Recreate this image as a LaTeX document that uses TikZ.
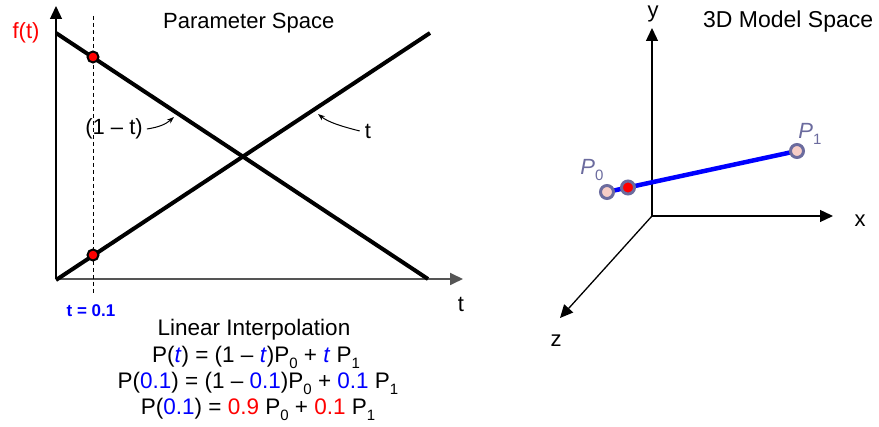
\documentclass[tikz,border=0pt]{standalone}
\usepackage{fontspec}
\setmainfont{Liberation Sans}
\usetikzlibrary{arrows.meta}
\definecolor{PtEdge}{HTML}{6B6B9E}
\definecolor{PtFill}{HTML}{F7CDC6}
\definecolor{AxisGray}{HTML}{555555}
\newcommand\lowsub[1]{\raisebox{-0.5ex}{\fontsize{15}{15}\selectfont#1}}
\newcommand\bl[1]{\textcolor{blue}{#1}}
\newcommand\rd[1]{\textcolor{red}{#1}}

\begin{document}
\begin{tikzpicture}[x=1pt,y=-1pt,
  lbl/.style={font=\fontsize{22}{26}\selectfont,inner sep=0pt},
  eqline/.style={lbl,font=\fontsize{22.5}{26}\selectfont,anchor=base},
  axis/.style={line width=1.3pt,-{Triangle[length=13pt,width=12pt]}},
  fline/.style={line width=4pt},
  tdot/.style={circle,draw,fill=red,line width=2pt,minimum size=11pt,inner sep=0pt},
  vpt/.style={circle,draw=PtEdge,fill=PtFill,line width=3pt,minimum size=13pt,inner sep=0pt},
  pointer/.style={line width=1pt,-{Stealth[length=7pt,width=5pt]}}
]
  \useasboundingbox (0,0) rectangle (879,427);

  % parameter space
  \coordinate (org) at (56,279);
  \coordinate (ftip) at (56,6);
  \coordinate (ttip) at (463,279);
  \coordinate (a0) at (56,33);
  \coordinate (a1) at (428,279);
  \coordinate (b0) at (56,280);
  \coordinate (b1) at (430,33);
  \coordinate (dtop) at (93,16);
  \coordinate (dbot) at (93,293);

  \draw[axis] (org) -- (ftip);
  \draw[axis,draw=AxisGray,line width=1.8pt] (org) -- (ttip);
  \draw[dashed,dash pattern=on 4pt off 3pt,line width=0.8pt] (dtop) -- (dbot);
  \draw[fline] (a0) -- (a1);
  \draw[fline] (b0) -- (b1);
  \node[tdot] (hi) at (93,57) {};
  \node[tdot] (lo) at (93,255) {};

  \node[lbl,anchor=base west] (ptitle) at (163,29) {Parameter Space};
  \node[lbl,text=red] (ft) at (26,33) {f(t)};
  \node[lbl] (omt) at (114,129) {(1 – t)};
  \node[lbl] (tlab) at (368,131) {t};
  \node[lbl] (taxis) at (461,304) {t};
  \node[font=\bfseries\fontsize{17}{19}\selectfont,text=blue,inner sep=0pt] (tval) at (91,311) {t = 0.1};

  \coordinate (omtend) at (174,117);
  \coordinate (tend) at (318,114);
  \draw[pointer] ([xshift=4pt]omt.east) .. controls (160,127) and (166,124) .. (omtend);
  \draw[pointer] ([xshift=-5pt]tlab.west) .. controls (340,126) and (328,122) .. (tend);

  % interpolation formulas
  \node[eqline] (lin) at (254,336) {Linear Interpolation};
  \node[eqline] (eq1) at (256,363) {P(\bl{\textit{t}}) = (1 – \bl{\textit{t}})P\lowsub{0} + \bl{\textit{t}} P\lowsub{1}};
  \node[eqline] (eq2) at (258,389) {P(\bl{0.1}) = (1 – \bl{0.1})P\lowsub{0} + \bl{0.1} P\lowsub{1}};
  \node[eqline] (eq3) at (258,415) {P(\bl{0.1}) = \rd{0.9} P\lowsub{0} + \rd{0.1} P\lowsub{1}};

  % model space
  \coordinate (O) at (652,216);
  \coordinate (ytip) at (652,28);
  \coordinate (xtip) at (833,216);
  \coordinate (ztip) at (560,318);
  \draw[axis] (O) -- (ytip);
  \draw[axis] (O) -- (xtip);
  \draw[axis] (O) -- (ztip);
  \node[lbl] (ylab) at (653,14) {y};
  \node[lbl] (xlab) at (860,221) {x};
  \node[lbl] (zlab) at (556,341) {z};
  \node[lbl,font=\fontsize{23}{26}\selectfont,anchor=base west] (mtitle) at (703,28) {3D Model Space};

  \coordinate (p0) at (607,192);
  \coordinate (p1) at (797,151);
  \draw[blue,line width=4.5pt] (p0) -- (p1);
  \node[vpt] (P0) at (p0) {};
  \node[vpt] (P1) at (p1) {};
  \node[vpt,fill=red] (Pt) at (628,187.5) {};
  \node[lbl,text=PtEdge] (P0lab) at (592,170) {\textit{P}\lowsub{0}};
  \node[lbl,text=PtEdge] (P1lab) at (810,134) {\textit{P}\lowsub{1}};
\end{tikzpicture}
\end{document}
